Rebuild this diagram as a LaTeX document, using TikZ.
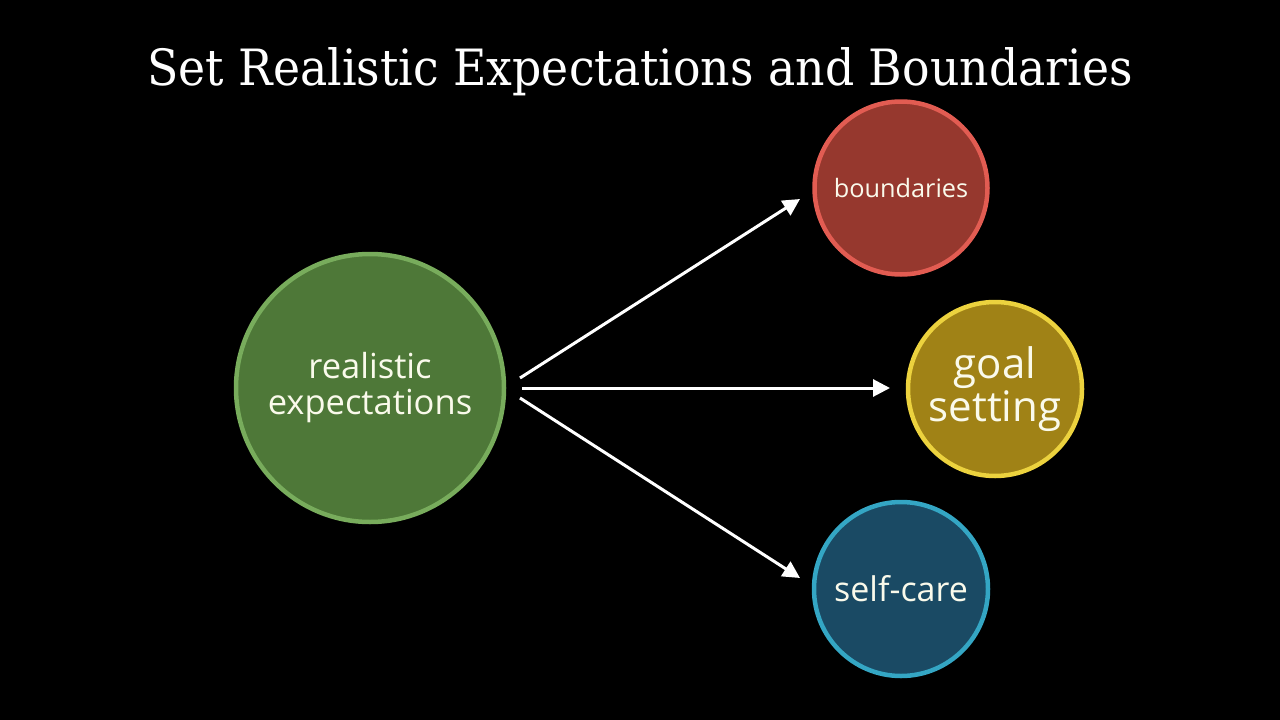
\documentclass[tikz,border=0pt]{standalone}
\usepackage{fontspec}
\setmainfont{Open Sans}
\newfontfamily\titlefont{DejaVu Serif}
\usetikzlibrary{arrows.meta}
\definecolor{gfill}{RGB}{78,120,56}
\definecolor{gline}{RGB}{120,172,92}
\definecolor{rfill}{RGB}{150,56,46}
\definecolor{rline}{RGB}{226,92,82}
\definecolor{yfill}{RGB}{160,130,22}
\definecolor{yline}{RGB}{236,210,62}
\definecolor{bfill}{RGB}{26,74,100}
\definecolor{bline}{RGB}{52,166,196}
\definecolor{ctext}{RGB}{250,250,235}
\tikzset{
  bubble/.style={circle, line width=4.5pt, inner sep=0pt, text=ctext, align=center},
  conn/.style={draw=white, line width=3pt, -{Triangle[length=17pt,width=17pt]}}
}
\begin{document}
\begin{tikzpicture}[x=1pt,y=-1pt]
\fill[black] (0,0) rectangle (1280,720);
\useasboundingbox (0,0) rectangle (1280,720);
\node[text=white, font=\titlefont\fontsize{50}{60}\selectfont, anchor=base] (title) at (640,85) {\scalebox{0.915}[1]{Set Realistic Expectations and Boundaries}};
\node[bubble, fill=gfill, draw=gline, minimum size=268pt, font=\fontsize{34.5}{36}\selectfont] (re) at (370,388) {realistic\\expectations};
\node[bubble, fill=rfill, draw=rline, minimum size=173pt, font=\fontsize{25.3}{28}\selectfont] (bd) at (901,188) {boundaries};
\node[bubble, fill=yfill, draw=yline, minimum size=174pt, font=\fontsize{42}{43}\selectfont] (gs) at (995,389) {goal\\setting};
\node[bubble, fill=bfill, draw=bline, minimum size=174pt, font=\fontsize{34}{38}\selectfont] (sc) at (901,589) {self-care};
\coordinate (s1) at (520,378);
\coordinate (s2) at (522,388);
\coordinate (s3) at (520,398);
\coordinate (e1) at (800,199);
\coordinate (e2) at (890,388);
\coordinate (e3) at (800,578);
\draw[conn] (s1) -- (e1);
\draw[conn] (s2) -- (e2);
\draw[conn] (s3) -- (e3);
\end{tikzpicture}
\end{document}
